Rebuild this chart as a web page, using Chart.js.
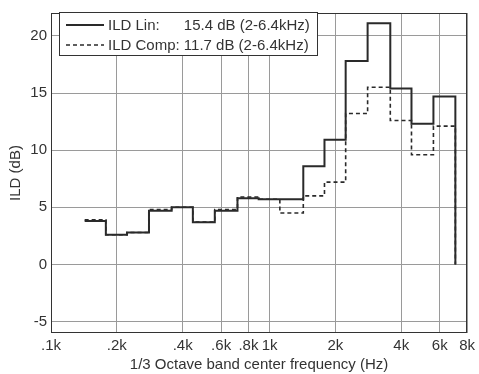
<!DOCTYPE html>
<html>
<head>
<meta charset="utf-8">
<script src="https://cdn.jsdelivr.net/npm/chart.js@4"></script>
<style>
  html, body { margin: 0; padding: 0; background: #fff; }
  #wrap { width: 479px; height: 374px; }
</style>
</head>
<body>
<div id="wrap"><canvas id="ildChart" width="479" height="374"></canvas></div>
<script>
// 1/3 octave band centres (Hz) and ILD per band (dB)
const bandCenters = [160, 200, 250, 315, 400, 500, 630, 800, 1000, 1250, 1600, 2000, 2500, 3150, 4000, 5000, 6300];
const ildLin  = [3.8, 2.6, 2.8, 4.7, 5.0, 3.7, 4.7, 5.8, 5.7, 5.7, 8.6, 10.9, 17.8, 21.1, 15.4, 12.3, 14.7];
const ildComp = [3.9, 2.6, 2.8, 4.8, 5.0, 3.7, 4.8, 5.9, 5.7, 4.5, 6.0, 7.2, 13.2, 15.5, 12.6, 9.6, 12.1];
const endValue = 0; // stairs close down to 0 at the upper band edge

const legendNames = ['ILD Lin:', 'ILD Comp:'];
const legendStats = ['15.4 dB (2-6.4kHz)', '11.7 dB (2-6.4kHz)'];

const xTicks = [100, 200, 400, 600, 800, 1000, 2000, 4000, 6000, 8000];
const xTickLabels = ['.1k', '.2k', '.4k', '.6k', '.8k', '1k', '2k', '4k', '6k', '8k'];
const yTicks = [-5, 0, 5, 10, 15, 20];

const FONT = "'Liberation Sans', Arial, sans-serif";
const INK = '#333';

// stair points: value held from lower band edge to the next one
function stairs(values) {
  const pts = values.map((v, i) => ({ x: bandCenters[i] * Math.pow(2, -1 / 6), y: v }));
  pts.push({ x: bandCenters[bandCenters.length - 1] * Math.pow(2, 1 / 6), y: endValue });
  return pts;
}

const framePlugin = {
  id: 'frameAndLegend',
  afterDraw(chart) {
    const { ctx, chartArea: a } = chart;
    ctx.save();
    ctx.strokeStyle = INK;
    ctx.lineWidth = 1;
    ctx.strokeRect(Math.round(a.left) + 0.5, Math.round(a.top) + 0.5,
                   Math.round(a.right - a.left) - 1, Math.round(a.bottom - a.top) - 1);

    // legend box
    const bx = 59.5, by = 12.5, bw = 258, bh = 43;
    ctx.fillStyle = '#fff';
    ctx.fillRect(bx, by, bw, bh);
    ctx.strokeRect(bx, by, bw, bh);
    ctx.font = '15px ' + FONT;
    ctx.textBaseline = 'middle';
    ctx.fillStyle = INK;
    const nameW = Math.max(...legendNames.map(n => ctx.measureText(n + ' ').width));
    chart.data.datasets.forEach((ds, i) => {
      const y = 25 + i * 20;
      ctx.beginPath();
      ctx.setLineDash(ds.borderDash || []);
      ctx.lineWidth = ds.borderWidth;
      ctx.strokeStyle = ds.borderColor;
      ctx.moveTo(66, y);
      ctx.lineTo(104, y);
      ctx.stroke();
      ctx.setLineDash([]);
      ctx.fillText(legendNames[i], 108, y + 1);
      ctx.fillText(legendStats[i], 108 + nameW, y + 1);
    });
    ctx.restore();
  }
};

const ctx = document.getElementById('ildChart').getContext('2d');

new Chart(ctx, {
  type: 'line',
  data: {
    datasets: [{
      label: legendNames[0],
      data: stairs(ildLin),
      borderColor: '#2a2a2a',
      borderWidth: 2,
      stepped: 'before',
      pointRadius: 0,
      fill: false
    }, {
      label: legendNames[1],
      data: stairs(ildComp),
      borderColor: '#2a2a2a',
      borderWidth: 1.6,
      borderDash: [4, 3],
      stepped: 'before',
      pointRadius: 0,
      fill: false
    }]
  },
  options: {
    responsive: false,
    animation: false,
    layout: { padding: { left: 4, right: 10, top: 6, bottom: 0 } },
    plugins: {
      legend: { display: false },
      tooltip: { enabled: false }
    },
    scales: {
      x: {
        type: 'logarithmic',
        min: 100,
        max: 8000,
        afterBuildTicks: s => { s.ticks = xTicks.map(v => ({ value: v })); },
        afterFit: s => { s.height = 41; },
        ticks: {
          autoSkip: false,
          maxRotation: 0,
          padding: 4,
          color: INK,
          font: { family: FONT, size: 15 },
          callback: (v) => xTickLabels[xTicks.indexOf(v)]
        },
        grid: { color: '#9a9a9a', borderDash: [1, 1], drawTicks: false },
        border: { display: false },
        title: {
          display: true,
          text: '1/3 Octave band center frequency (Hz)',
          color: INK,
          font: { family: FONT, size: 15 },
          padding: { top: 2, bottom: 0 }
        }
      },
      y: {
        min: -6,
        max: 22,
        afterBuildTicks: s => { s.ticks = yTicks.map(v => ({ value: v })); },
        afterFit: s => { s.width = 47; },
        ticks: {
          padding: 4,
          color: INK,
          font: { family: FONT, size: 15 }
        },
        grid: { color: '#9a9a9a', borderDash: [1, 1], drawTicks: false },
        border: { display: false },
        title: {
          display: true,
          text: 'ILD (dB)',
          color: INK,
          font: { family: FONT, size: 15 },
          padding: { top: 3, bottom: 0 }
        }
      }
    }
  },
  plugins: [framePlugin]
});
</script>
</body>
</html>
